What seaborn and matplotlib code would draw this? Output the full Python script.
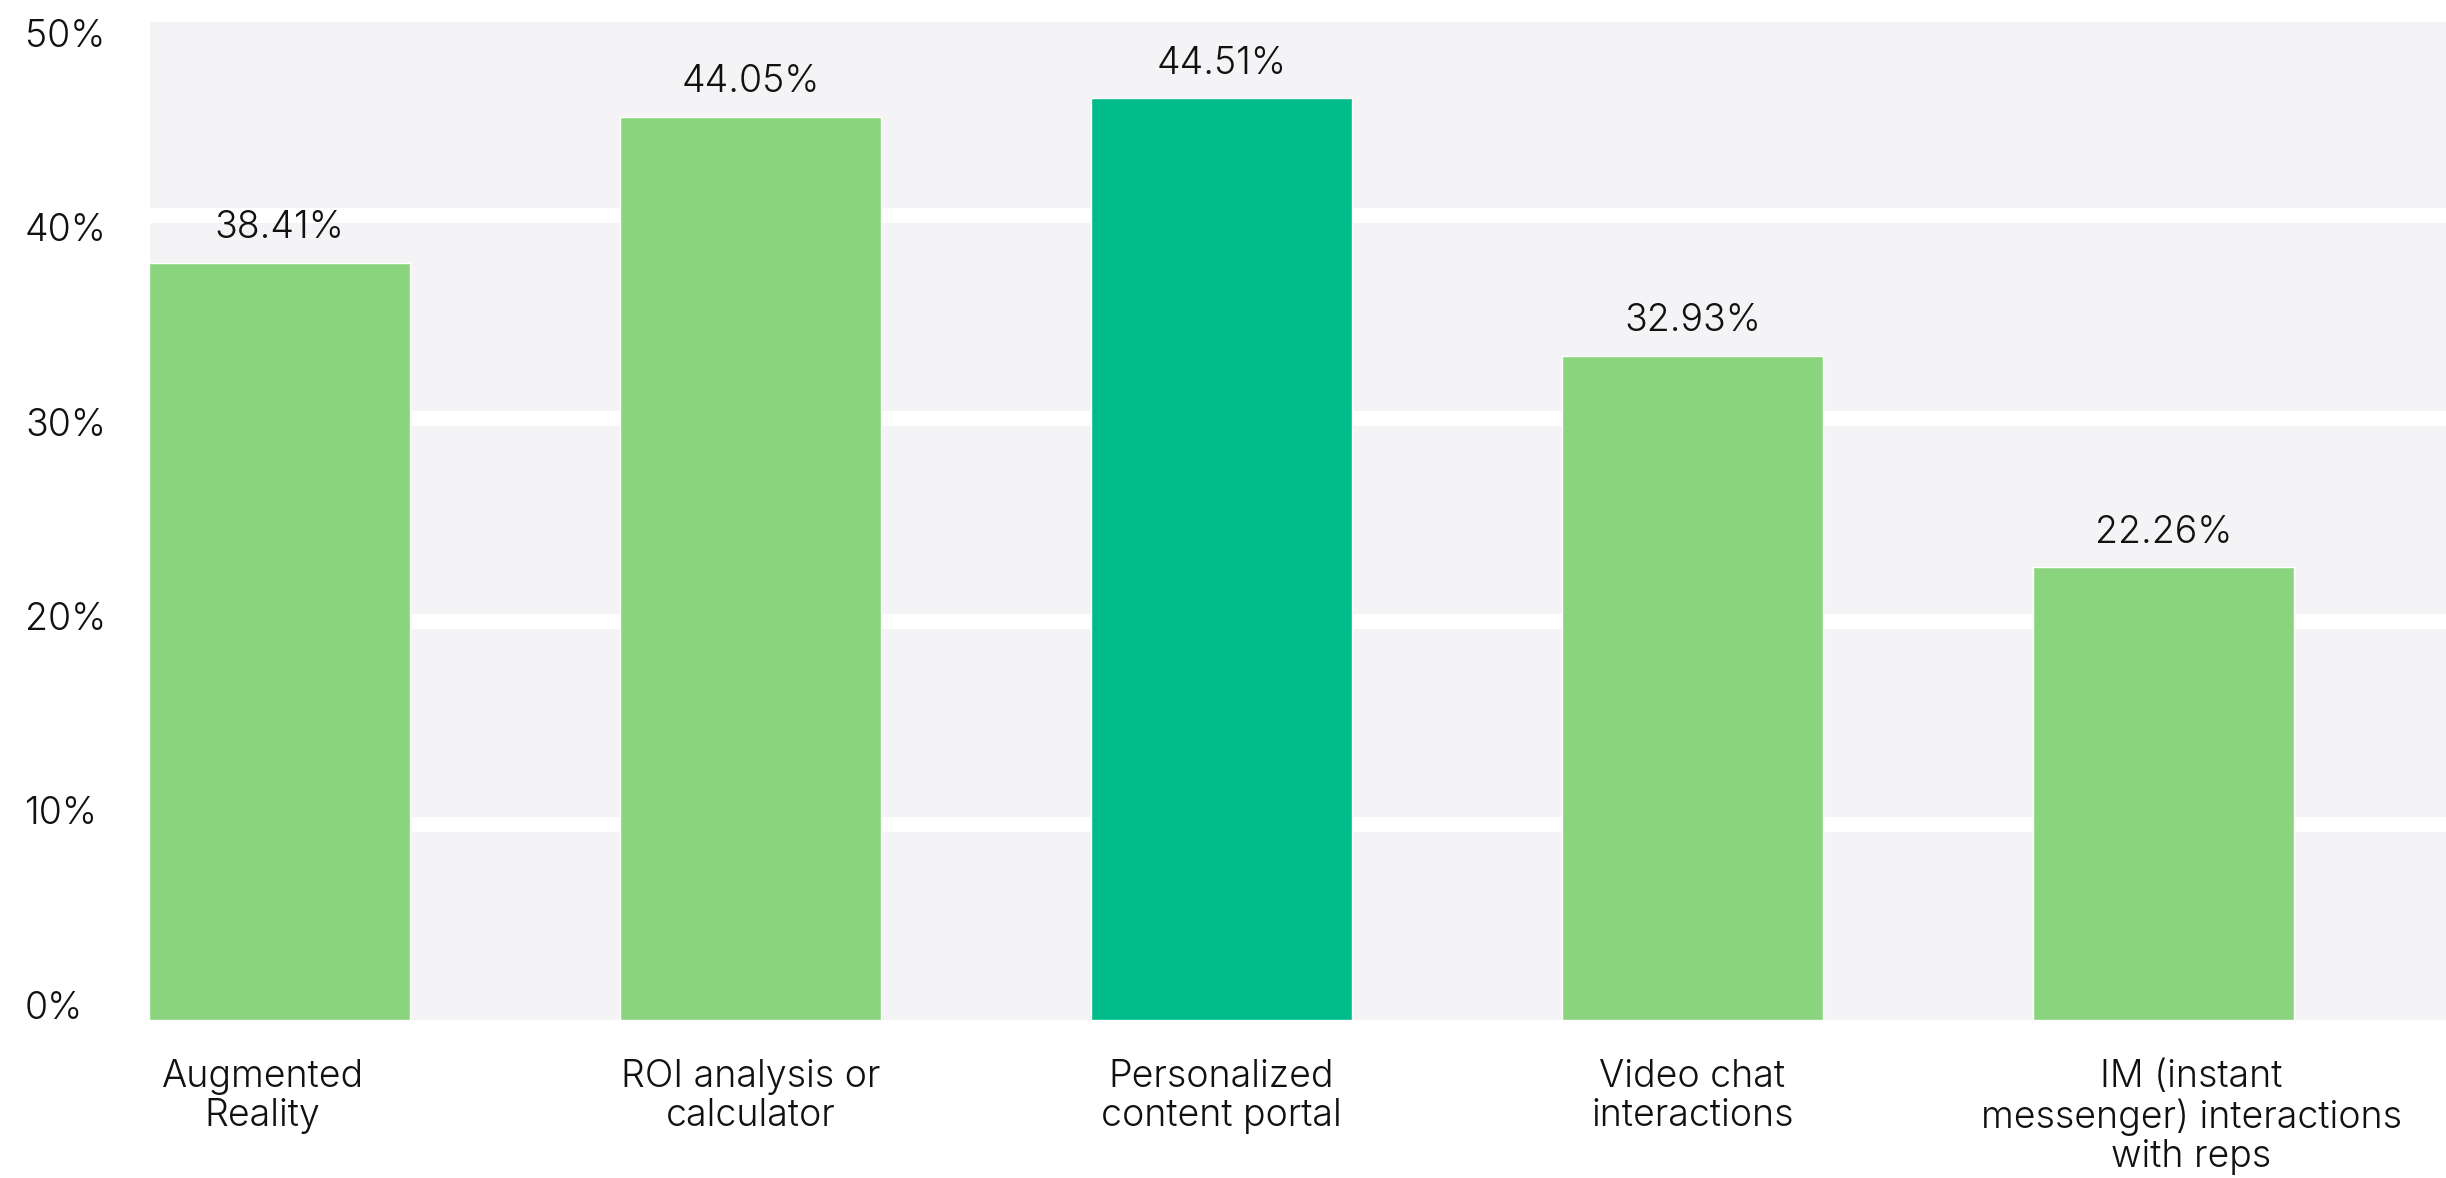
import matplotlib
matplotlib.use('Agg')
import matplotlib.pyplot as plt
import matplotlib.transforms as mtransforms
import seaborn as sns

# data
categories = ['Augmented\nReality', 'ROI analysis or\ncalculator', 'Personalized\ncontent portal',
              'Video chat\ninteractions', 'IM (instant\nmessenger) interactions\nwith reps']
# bar heights as drawn (printed labels don't quite match them in the original)
heights = [37.3, 44.5, 45.4, 32.7, 22.3]
value_labels = ['38.41%', '44.05%', '44.51%', '32.93%', '22.26%']
bar_colors = ['#89d47d', '#89d47d', '#00bc8b', '#89d47d', '#89d47d']
grid_values = [10, 20, 30, 40]
tick_values = [0, 10, 20, 30, 40, 50]
tick_labels = ['0%', '10%', '20%', '30%', '40%', '50%']

sns.set_theme(style='white')
plt.rcParams['font.family'] = ['Inter', 'DejaVu Sans']
plt.rcParams['font.weight'] = 300
text_color = '#111111'

fig = plt.figure(figsize=(24.46, 11.78), dpi=100)
ax = fig.add_axes([150 / 2446, 1 - 1020 / 1178, 1 - 150 / 2446, (1020 - 22) / 1178])
ax.set_facecolor('#f4f4f6')

# white bands just under each gridline value
for v in grid_values:
    ax.axhspan(v - 0.75, v, color='white', lw=0, zorder=1)

sns.barplot(x=categories, y=heights, hue=categories, palette=bar_colors, legend=False,
            width=0.554, saturation=1, ax=ax, zorder=2)

for cont, lab in zip(ax.containers, value_labels):
    ax.bar_label(cont, labels=[lab], padding=12, fontsize=27, color=text_color)

ax.set_xlim(-0.275, 4.6)
ax.set_ylim(0, 49.16)

# the y labels sit a little off the bands in the original
ax.set_yticks([0.74 + 0.958 * v for v in tick_values])
ax.set_yticklabels(tick_labels)
for t in ax.get_yticklabels():
    t.set_ha('left')
ax.tick_params(axis='y', length=0, pad=90, labelsize=27, labelcolor=text_color)
ax.tick_params(axis='x', length=0, pad=28, labelsize=27, labelcolor=text_color)

# outer category labels are nudged in the original (first flush with the bar, last to the right)
nudges = [-17, 0, 0, 0, 28]
for t, dx in zip(ax.get_xticklabels(), nudges):
    t.set_linespacing(1.12)
    t.set_transform(t.get_transform() + mtransforms.ScaledTranslation(dx / 100, 0, fig.dpi_scale_trans))

ax.set_xlabel('')
ax.set_ylabel('')
sns.despine(ax=ax, left=True, bottom=True)

fig.savefig('out.png', dpi=100)
